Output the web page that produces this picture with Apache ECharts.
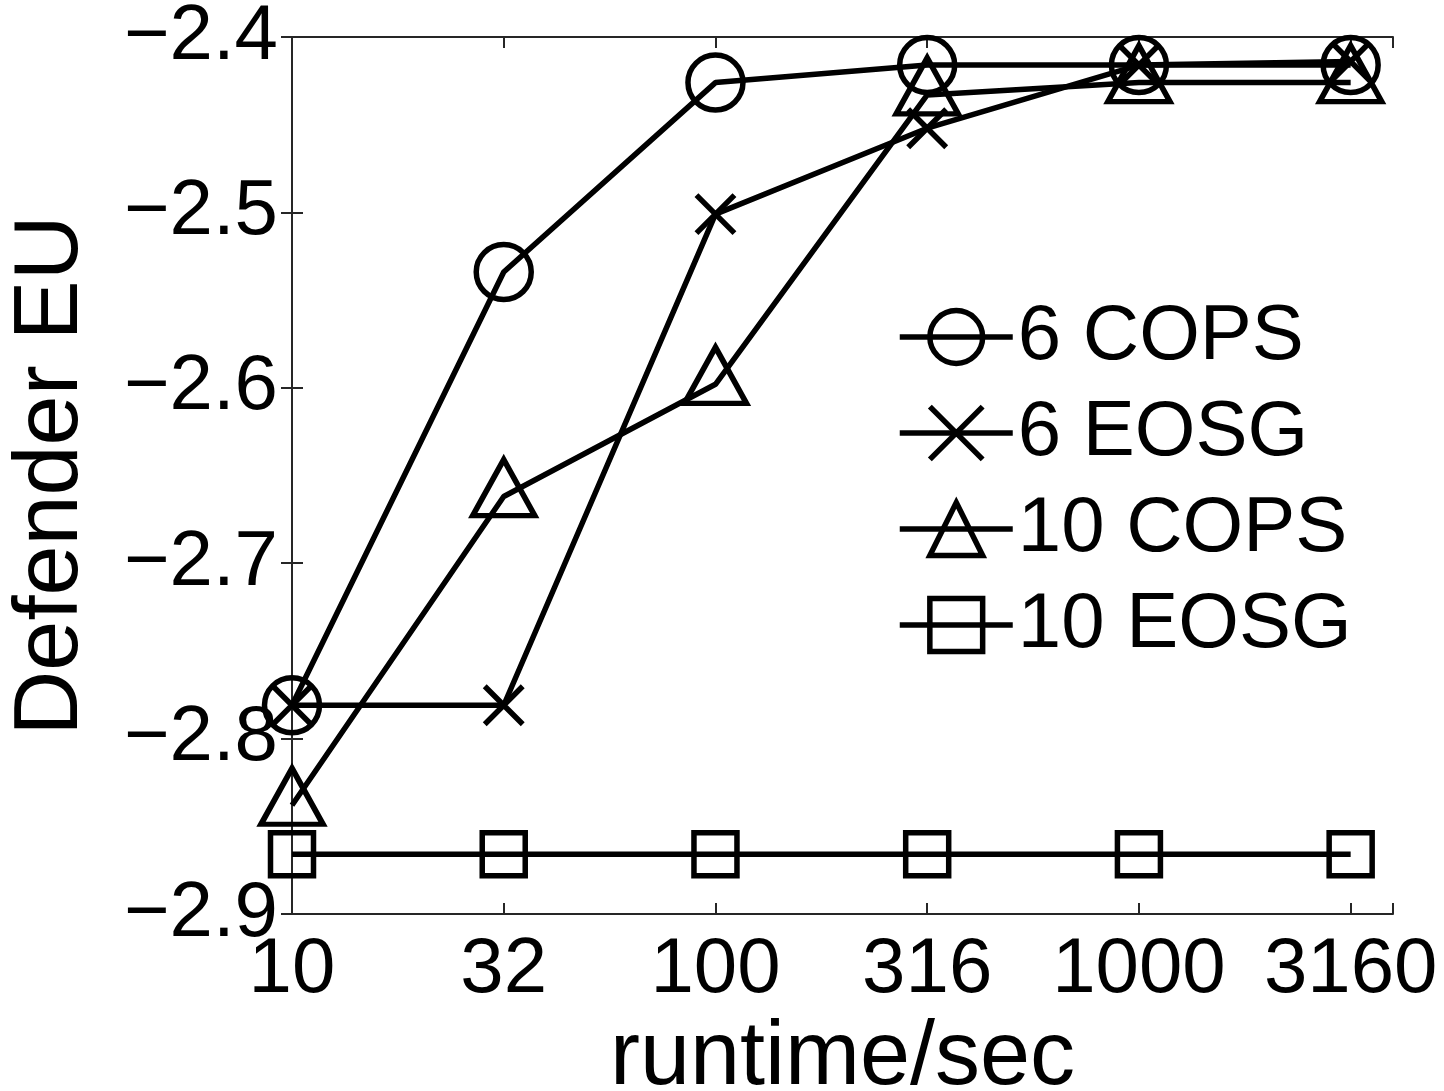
<!DOCTYPE html>
<html>
<head>
<meta charset="utf-8">
<script src="https://cdn.jsdelivr.net/npm/echarts@6/dist/echarts.min.js"></script>
<style>
  html, body { margin: 0; padding: 0; background: #fff; }
  #main { width: 1444px; height: 1091px; }
</style>
</head>
<body>
<div id="main"></div>
<script>
// runtime categories (sec), placed at evenly spaced positions 0..5
var runtimeLabels = ["10", "32", "100", "316", "1000", "3160"];

// defender expected utility per series
var cops6 = [-2.781, -2.534, -2.426, -2.416, -2.416, -2.416];
var eosg6 = [-2.781, -2.781, -2.501, -2.452, -2.416, -2.414];
var cops10 = [-2.838, -2.662, -2.598, -2.433, -2.426, -2.426];
var eosg10 = [-2.866, -2.866, -2.866, -2.866, -2.866, -2.866];

var yTicks = [-2.9, -2.4, 0.1]; // min, max, step

var font = "'Liberation Sans', Arial, Helvetica, sans-serif";
var axisColor = "#262626";
var strokeW = 5.5;

function pairs(values) {
  return values.map(function (v, i) { return [i, v]; });
}

function makeSeries(name, values, symbol, size, offset) {
  return {
    type: "line",
    name: name,
    data: pairs(values),
    symbol: symbol,
    symbolSize: size,
    symbolOffset: offset || [0, 0],
    showSymbol: true,
    lineStyle: { color: "#000", width: strokeW },
    itemStyle: { color: "transparent", borderColor: "#000", borderWidth: strokeW },
    emphasis: { disabled: true }
  };
}

var chart = echarts.init(document.getElementById("main"));

var tickStyle = { show: true, inside: true, length: 11, lineStyle: { color: axisColor, width: 2 } };
var lineStyle = { show: true, lineStyle: { color: axisColor, width: 2 } };

var option = {
  animation: false,
  backgroundColor: "#fff",
  grid: { left: 292, right: 51, top: 37, bottom: 177, containLabel: false, outerBoundsMode: "none" },
  legend: {
    left: 892,
    top: 293,
    orient: "vertical",
    itemWidth: 113,
    itemHeight: 66,
    itemGap: 18,
    lineStyle: { color: "#000", width: strokeW },
    itemStyle: { color: "transparent", borderColor: "#000", borderWidth: strokeW },
    textStyle: { fontFamily: font, fontSize: 78, color: "#000" },
    data: ["6 COPS", "6 EOSG", "10 COPS", "10 EOSG"]
  },
  xAxis: [
    {
      type: "value",
      min: 0,
      max: 5.2,
      interval: 1,
      name: "runtime/sec",
      nameLocation: "middle",
      nameGap: 70,
      nameTextStyle: { fontFamily: font, fontSize: 90, color: "#000" },
      axisLine: lineStyle,
      axisTick: tickStyle,
      splitLine: { show: false },
      axisLabel: {
        fontFamily: font,
        fontSize: 78,
        color: "#000",
        margin: 17,
        formatter: function (v) {
          var r = Math.round(v);
          return Math.abs(v - r) < 1e-6 ? runtimeLabels[r] : "";
        }
      }
    },
    {
      type: "value",
      position: "top",
      min: 0,
      max: 5.2,
      interval: 1,
      axisLine: lineStyle,
      axisTick: tickStyle,
      axisLabel: { show: false },
      splitLine: { show: false }
    }
  ],
  yAxis: [
    {
      type: "value",
      min: yTicks[0],
      max: yTicks[1],
      interval: yTicks[2],
      name: "Defender EU",
      nameLocation: "middle",
      nameGap: 195,
      nameTextStyle: { fontFamily: font, fontSize: 90, color: "#000" },
      axisLine: lineStyle,
      axisTick: tickStyle,
      splitLine: { show: false },
      axisLabel: {
        fontFamily: font,
        fontSize: 78,
        color: "#000",
        margin: 14,
        formatter: function (v) { return v.toFixed(1).replace("-", "\u2212"); }
      }
    },
    {
      type: "value",
      position: "right",
      min: yTicks[0],
      max: yTicks[1],
      interval: yTicks[2],
      axisLine: lineStyle,
      axisTick: tickStyle,
      axisLabel: { show: false },
      splitLine: { show: false }
    }
  ],
  series: [
    makeSeries("6 COPS", cops6, "circle", 55),
    makeSeries("6 EOSG", eosg6, "path://M0,0L10,10M10,0L0,10", 38),
    makeSeries("10 COPS", cops10, "triangle", [62, 56], [0, -9]),
    makeSeries("10 EOSG", eosg10, "rect", 43)
  ]
};

chart.setOption(option);
</script>
</body>
</html>
